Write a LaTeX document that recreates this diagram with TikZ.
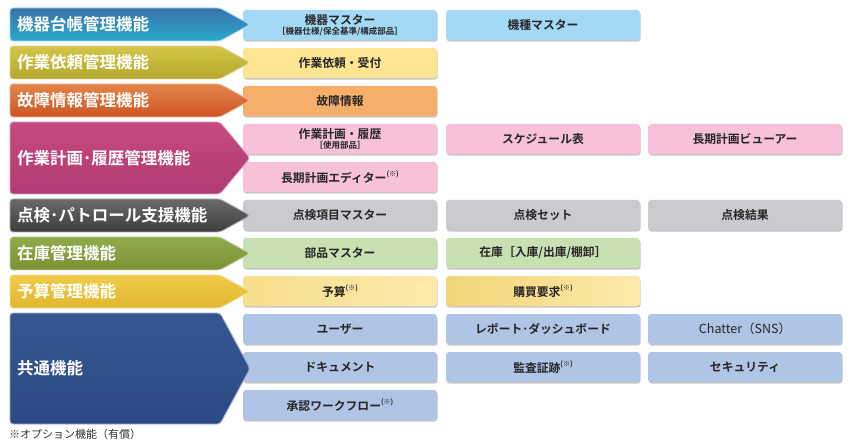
\documentclass[tikz,border=0pt]{standalone}
\usepackage{fontspec}
\setmainfont{Noto Sans CJK JP}[BoldFont={Noto Sans CJK JP Bold}]
\usetikzlibrary{shadows}

\definecolor{boxblue}{HTML}{A3D9F4}
\definecolor{boxyellow}{HTML}{FDE594}
\definecolor{boxorange}{HTML}{F6AE6B}
\definecolor{boxpink}{HTML}{F6C1D9}
\definecolor{boxgray}{HTML}{CCCACF}
\definecolor{boxgreen}{HTML}{C9E0B2}
\definecolor{boxgoldL}{HTML}{F3D578}
\definecolor{boxgoldR}{HTML}{FDEAAB}
\definecolor{boxnavy}{HTML}{B0C4E6}

\definecolor{blueT}{HTML}{3A72AE}    \definecolor{blueB}{HTML}{28AACB}
\definecolor{oliveT}{HTML}{D3C648}   \definecolor{oliveB}{HTML}{B4A72C}
\definecolor{orangeT}{HTML}{E2864A}  \definecolor{orangeB}{HTML}{CF5424}
\definecolor{pinkT}{HTML}{C64A80}    \definecolor{pinkB}{HTML}{B03A72}
\definecolor{grayT}{HTML}{6A6A6A}    \definecolor{grayB}{HTML}{3E3E3E}
\definecolor{greenT}{HTML}{92AA4C}   \definecolor{greenB}{HTML}{7A9232}
\definecolor{goldT}{HTML}{F0CC4A}    \definecolor{goldB}{HTML}{E2B72E}
\definecolor{navyT}{HTML}{35578F}    \definecolor{navyB}{HTML}{2C4A86}

\newcommand\optmark{\raisebox{0.45em}{\fontsize{7}{7}\selectfont(※)}}

\begin{document}
\begin{tikzpicture}[x=1pt, y=-1pt,
    func/.style={rounded corners=3pt, minimum width=194pt, minimum height=30pt,
        inner sep=0pt, align=center, text=black!85,
        font=\fontsize{11.8}{12}\selectfont\bfseries,
        drop shadow={shadow xshift=0.6pt, shadow yshift=-1.6pt, fill=black, opacity=0.22}},
    grp/.style={rounded corners=3pt, top color=#1T, bottom color=#1B,
        draw=white!55!#1B, line width=0.9pt},
    grptext/.style={anchor=west, inner sep=0pt, text=white,
        font=\fontsize{16.5}{17}\selectfont\bfseries}]

    \useasboundingbox (0,0) rectangle (850,443);

    % Declare the function boxes
    \node[func, fill=boxblue] at (340,25) (B11) {機器マスター\\[-2pt]{\fontsize{8.5}{9}\selectfont［機器仕様/保全基準/構成部品］}};
    \node[func, fill=boxblue] at (543,25) (B12) {機種マスター};
    \node[func, fill=boxyellow] at (340,63) (B21) {作業依頼・受付};
    \node[func, fill=boxorange] at (340,101) (B31) {故障情報};
    \node[func, fill=boxpink] at (340,139) (B41) {作業計画・履歴\\[-2pt]{\fontsize{8.5}{9}\selectfont［使用部品］}};
    \node[func, fill=boxpink] at (543,139) (B42) {スケジュール表};
    \node[func, fill=boxpink] at (745,139) (B43) {長期計画ビューアー};
    \node[func, fill=boxpink] at (340,177) (B44) {長期計画エディター\optmark};
    \node[func, fill=boxgray] at (340,215) (B51) {点検項目マスター};
    \node[func, fill=boxgray] at (543,215) (B52) {点検セット};
    \node[func, fill=boxgray] at (745,215) (B53) {点検結果};
    \node[func, fill=boxgreen] at (340,253) (B61) {部品マスター};
    \node[func, fill=boxgreen] at (543,253) (B62) {在庫［入庫/出庫/棚卸］};
    \node[func, left color=boxgoldL!60!boxgoldR, right color=boxgoldR] at (340,291) (B71) {予算\optmark};
    \node[func, left color=boxgoldL, right color=boxgoldR] at (543,291) (B72) {購買要求\optmark};
    \node[func, fill=boxnavy] at (340,329) (B81) {ユーザー};
    \node[func, fill=boxnavy] at (543,329) (B82) {レポート･ダッシュボード};
    \node[func, fill=boxnavy, font=\fontsize{12.5}{12.5}\selectfont] at (745,329) (B83) {Chatter（SNS）};
    \node[func, fill=boxnavy] at (340,367) (B84) {ドキュメント};
    \node[func, fill=boxnavy] at (543,367) (B85) {監査証跡\optmark};
    \node[func, fill=boxnavy] at (745,367) (B86) {セキュリティ};
    \node[func, fill=boxnavy] at (340,405) (B87) {承認ワークフロー\optmark};

    % Declare the group arrows
    \draw[grp=blue] (10,8) -- (220,8) -- (250,24.5) -- (220,41) -- (10,41) -- cycle;
    \draw[grp=olive] (10,46) -- (220,46) -- (250,62.5) -- (220,79) -- (10,79) -- cycle;
    \draw[grp=orange] (10,84) -- (220,84) -- (250,100.5) -- (220,117) -- (10,117) -- cycle;
    \draw[grp=pink] (10,122) -- (220,122) -- (250,158) -- (220,194) -- (10,194) -- cycle;
    \draw[grp=gray] (10,199) -- (220,199) -- (250,215.5) -- (220,232) -- (10,232) -- cycle;
    \draw[grp=green] (10,237) -- (220,237) -- (250,253.5) -- (220,270) -- (10,270) -- cycle;
    \draw[grp=gold] (10,275) -- (220,275) -- (250,291.5) -- (220,308) -- (10,308) -- cycle;
    \draw[grp=navy] (10,313) -- (220,313) -- (250,368.5) -- (220,424) -- (10,424) -- cycle;

    % Declare the group labels
    \node[grptext] at (17,24.5) (G1) {機器台帳管理機能};
    \node[grptext] at (17,62.5) (G2) {作業依頼管理機能};
    \node[grptext] at (17,100.5) (G3) {故障情報管理機能};
    \node[grptext] at (17,158) (G4) {作業計画･履歴管理機能};
    \node[grptext] at (17,215.5) (G5) {点検･パトロール支援機能};
    \node[grptext] at (17,253.5) (G6) {在庫管理機能};
    \node[grptext] at (17,291.5) (G7) {予算管理機能};
    \node[grptext] at (17,368.5) (G8) {共通機能};

    % Declare the footnote
    \node[anchor=west, inner sep=0pt, text=black!80, font=\fontsize{11}{11}\selectfont] at (9,434) (N) {※オプション機能（有償）};

\end{tikzpicture}
\end{document}
